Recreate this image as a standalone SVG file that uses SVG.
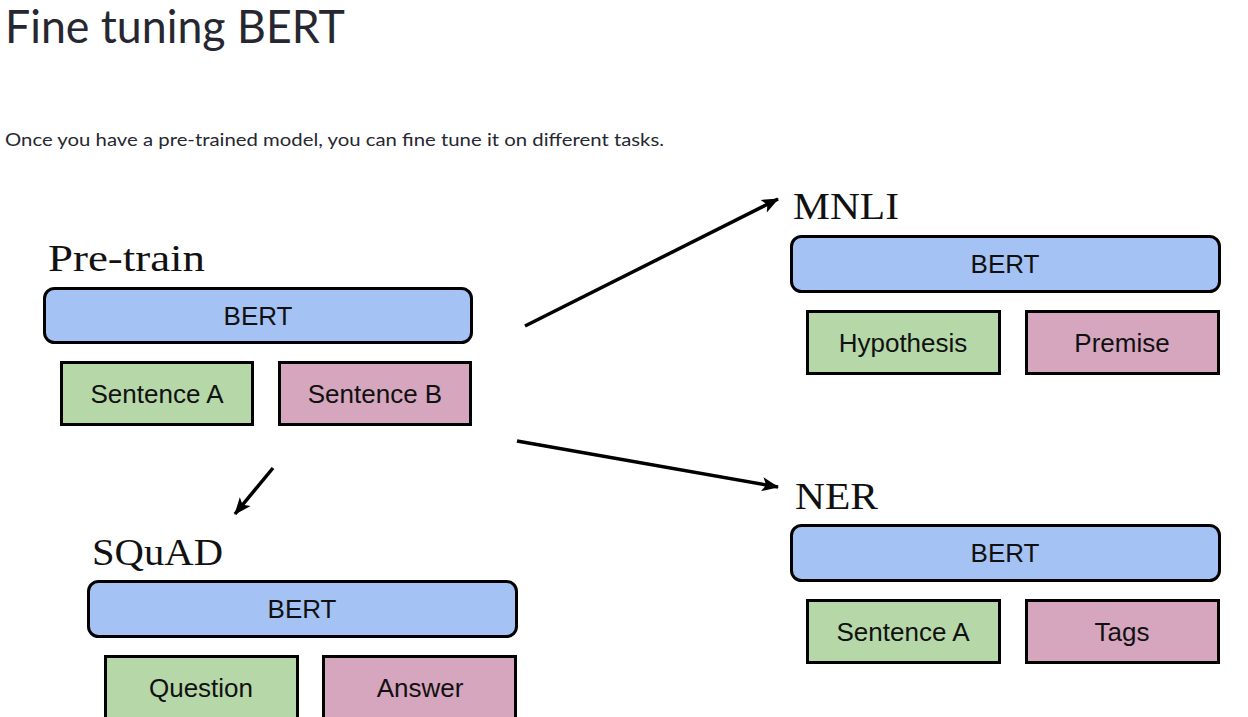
<svg xmlns="http://www.w3.org/2000/svg" width="1248" height="717" viewBox="0 0 1248 717">
  <style>
    .title { font-family: Lato, "Open Sans", "Liberation Sans", sans-serif; font-size: 46px; font-weight: 400; fill: #262730; }
    .sub { font-family: Lato, "Open Sans", "Liberation Sans", sans-serif; font-size: 18px; fill: #262730; }
    .lbl { font-family: "Liberation Serif", "DejaVu Serif", serif; font-size: 37px; fill: #111; }
    .bert { fill: #a4c2f4; stroke: #000; stroke-width: 3; }
    .green { fill: #b6d7a8; stroke: #000; stroke-width: 3; }
    .pink { fill: #d5a6bd; stroke: #000; stroke-width: 3; }
    .t { font-family: "Liberation Sans", Arial, sans-serif; font-size: 26px; fill: #111; text-anchor: middle; }
    .arrow { stroke: #000; stroke-width: 3.5; fill: none; marker-end: url(#ah); }
  </style>
  <defs>
    <marker id="ah" markerUnits="userSpaceOnUse" markerWidth="20" markerHeight="16" refX="16" refY="8" orient="auto">
      <path d="M0,1 L17,8 L0,15 L4,8 Z" fill="#000"/>
    </marker>
  </defs>
  <rect width="1248" height="717" fill="#fff"/>
  <text class="title" x="5" y="43" textLength="340" lengthAdjust="spacingAndGlyphs">Fine tuning BERT</text>
  <text class="sub" x="5" y="146" textLength="659" lengthAdjust="spacingAndGlyphs">Once you have a pre-trained model, you can fine tune it on different tasks.</text>

  <g id="pretrain">
    <text class="lbl" x="48" y="271" textLength="157" lengthAdjust="spacingAndGlyphs">Pre-train</text>
    <rect class="bert" x="44.5" y="288.5" width="427" height="54" rx="10"/>
    <text class="t" x="258" y="325">BERT</text>
    <rect class="green" x="61.5" y="362.5" width="191" height="62"/>
    <text class="t" x="157" y="403">Sentence A</text>
    <rect class="pink" x="279.5" y="362.5" width="191" height="62"/>
    <text class="t" x="375" y="403">Sentence B</text>
  </g>

  <g id="mnli">
    <text class="lbl" x="793" y="219" textLength="106" lengthAdjust="spacingAndGlyphs">MNLI</text>
    <rect class="bert" x="791.5" y="236.5" width="428" height="55" rx="10"/>
    <text class="t" x="1005" y="273">BERT</text>
    <rect class="green" x="807.5" y="311.5" width="192" height="62"/>
    <text class="t" x="903" y="352">Hypothesis</text>
    <rect class="pink" x="1026.5" y="311.5" width="192" height="62"/>
    <text class="t" x="1122" y="352">Premise</text>
  </g>

  <g id="ner">
    <text class="lbl" x="795" y="509" textLength="83" lengthAdjust="spacingAndGlyphs">NER</text>
    <rect class="bert" x="791.5" y="525.5" width="428" height="55" rx="10"/>
    <text class="t" x="1005" y="562">BERT</text>
    <rect class="green" x="807.5" y="600.5" width="192" height="62"/>
    <text class="t" x="903" y="641">Sentence A</text>
    <rect class="pink" x="1026.5" y="600.5" width="192" height="62"/>
    <text class="t" x="1122" y="641">Tags</text>
  </g>

  <g id="squad">
    <text class="lbl" x="92" y="565" textLength="131" lengthAdjust="spacingAndGlyphs">SQuAD</text>
    <rect class="bert" x="88.5" y="581.5" width="428" height="55" rx="10"/>
    <text class="t" x="302" y="618">BERT</text>
    <rect class="green" x="105.5" y="656.5" width="192" height="70"/>
    <text class="t" x="201" y="697">Question</text>
    <rect class="pink" x="323.5" y="656.5" width="192" height="70"/>
    <text class="t" x="420" y="697">Answer</text>
  </g>

  <g id="connectors">
    <line class="arrow" x1="525" y1="326" x2="778" y2="199"/>
    <line class="arrow" x1="517" y1="441" x2="778" y2="487"/>
    <line class="arrow" x1="273" y1="468" x2="235" y2="514"/>
  </g>
</svg>
